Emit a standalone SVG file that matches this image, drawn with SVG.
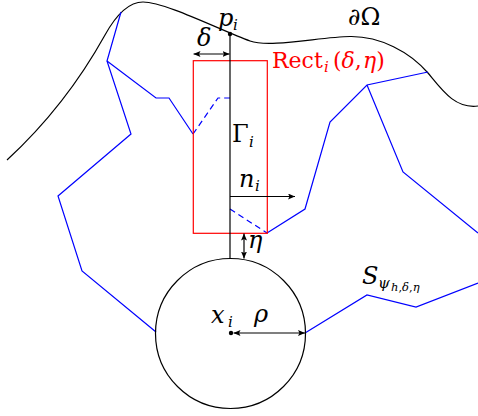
<svg xmlns="http://www.w3.org/2000/svg" width="478" height="416" viewBox="0 0 478 416">
<style>
.k{fill:none;stroke:#000;stroke-width:1.2}
.b{fill:none;stroke:#0000ff;stroke-width:1.2}
.d{stroke-dasharray:6,4}
.r{fill:none;stroke:#ff0000;stroke-width:1.2}
text{font-family:"DejaVu Serif","Liberation Serif",serif;font-size:24px;fill:#000}
.it{font-style:italic}
.sub{font-size:15px}
.ss{font-size:11.5px}
.red{fill:#ff0000;font-size:22px}
</style>
<defs>
<marker id="ah" viewBox="0 0 7 6" refX="7" refY="3" markerWidth="7" markerHeight="6" markerUnits="userSpaceOnUse" orient="auto-start-reverse">
<path d="M0,0 L7,3 L0,6 L1.5,3 Z" fill="#000"/>
</marker>
</defs>
<g id="boundary">
<path class="k" d="M7,160 C45,125 80,80 105,35 C115,17 128,2 143,2 C165,2 220,30 250,41 C270,48 320,37 350,36.5 C380,36 410,52 428,73 C442,90 455,109 478,106"/>
<text x="348" y="25">∂Ω</text>
</g>
<g id="surface">
<polyline class="b" points="121,12 107,61 131,134 58,196 82,271 156,332"/>
<polyline class="b" points="107,61 156,98 169,98 193,134"/>
<polyline class="b d" points="193,134 218,98 230,98"/>
<polyline class="b d" points="230,209 267,233"/>
<polyline class="b" points="267,233 305,209 330,122 367,85 428,72"/>
<polyline class="b" points="367,85 403,172 478,233"/>
<polyline class="b" points="305,333 367,295 416,307 478,283"/>
<text x="362" y="284"><tspan class="it">S</tspan><tspan class="it sub" x="378" y="288">ψ</tspan><tspan class="it ss" x="391" y="291">h</tspan><tspan class="ss">,</tspan><tspan class="it ss">δ</tspan><tspan class="ss">,</tspan><tspan class="it ss">η</tspan></text>
</g>
<g id="rect">
<rect class="r" x="193.3" y="60.7" width="74" height="172.6"/>
<text class="red" x="272" y="68">Rect<tspan class="it sub" x="324" y="72">i</tspan><tspan x="333" y="68">(</tspan><tspan class="it">δ</tspan><tspan>,</tspan><tspan class="it" x="363">η</tspan><tspan>)</tspan></text>
</g>
<g id="gamma">
<line class="k" x1="230" y1="34" x2="230" y2="258.5"/>
<circle cx="230" cy="34" r="2.2" fill="#000"/>
<text class="it" x="218" y="26">p<tspan class="sub" x="233" y="30">i</tspan></text>
<text x="232" y="142">Γ<tspan class="it sub" x="249" y="147">i</tspan></text>
</g>
<g id="ball">
<circle class="k" cx="230.5" cy="333.5" r="75"/>
<circle cx="231" cy="333" r="2.2" fill="#000"/>
<text class="it" x="211" y="323">x<tspan class="sub" x="228" y="327">i</tspan></text>
<text class="it" x="254" y="322">ρ</text>
</g>
<g id="connectors">
<line class="k" x1="193.5" y1="54" x2="229.5" y2="54" marker-start="url(#ah)" marker-end="url(#ah)"/>
<line class="k" x1="230" y1="196.5" x2="295" y2="196.5" marker-end="url(#ah)"/>
<line class="k" x1="244" y1="233.5" x2="244" y2="258.5" marker-start="url(#ah)" marker-end="url(#ah)"/>
<line class="k" x1="233.5" y1="333" x2="305" y2="333" marker-start="url(#ah)" marker-end="url(#ah)"/>
<text class="it" x="197" y="46">δ</text>
<text class="it" x="239" y="187">n<tspan class="sub" x="255" y="191">i</tspan></text>
<text class="it" x="248" y="248">η</text>
</g>
</svg>
